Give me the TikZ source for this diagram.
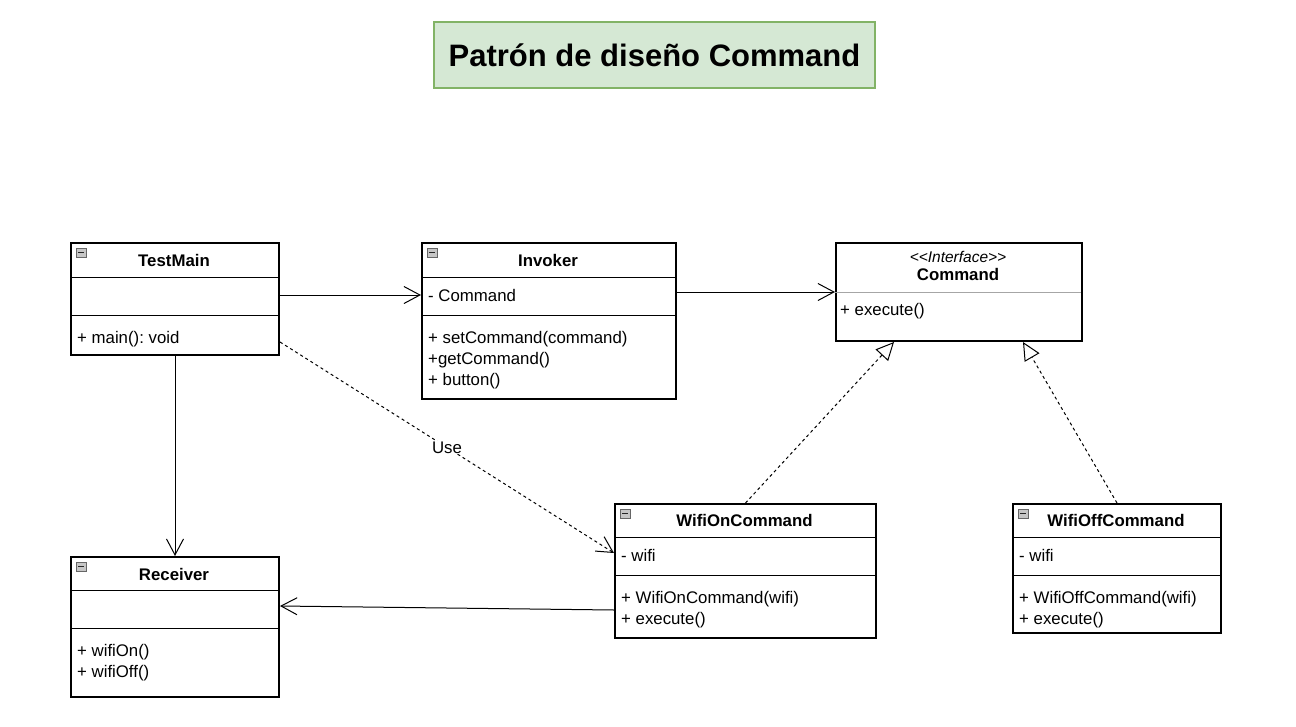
\documentclass[tikz,border=0pt]{standalone}
\usepackage{fontspec}
\setmainfont{Liberation Sans}
\usetikzlibrary{arrows.meta,calc}
\definecolor{titleFill}{HTML}{D5E8D4}
\definecolor{titleDraw}{HTML}{82B366}
\frenchspacing
\begin{document}
\begin{tikzpicture}[x=1pt,y=-1pt,
    classBox/.style={draw, line width=2pt, anchor=north west, inner sep=0pt},
    className/.style={inner sep=0pt, font=\fontsize{16.8}{20}\selectfont\bfseries},
    member/.style={anchor=west, inner sep=0pt, font=\fontsize{16.8}{20}\selectfont},
    sepLine/.style={line width=1pt},
    toggleIcon/.style={draw=gray!80!black, fill=gray!45, line width=0.7pt},
    assoc/.style={line width=1pt, -{Straight Barb[length=16pt, width=17pt, line width=1pt]}},
    realize/.style={line width=1pt, dash pattern=on 3pt off 3pt,
        -{Triangle[open, length=18pt, width=17pt, line width=1pt, fill=white]}}]
    \useasboundingbox (0,0) rectangle (1296,726);

    % Title
    \node[draw=titleDraw, fill=titleFill, line width=2pt, minimum width=441pt, minimum height=66pt,
        font=\fontsize{31}{36}\selectfont\bfseries] (title) at (654.5,55) {Patrón de diseño Command};

    % Classes
    \node[classBox, minimum width=208pt, minimum height=112pt] (testmain) at (70,242) {};
    \node[classBox, minimum width=254pt, minimum height=156pt] (invoker) at (421,242) {};
    \node[classBox, minimum width=246pt, minimum height=98pt] (command) at (835,242) {};
    \node[classBox, minimum width=261pt, minimum height=134pt] (wifion) at (614,503) {};
    \node[classBox, minimum width=208pt, minimum height=129pt] (wifioff) at (1012,503) {};
    \node[classBox, minimum width=208pt, minimum height=140pt] (receiver) at (70,556) {};

    % Compartments
    \draw[sepLine] (70,277) -- (278,277);
    \draw[sepLine] (70,315) -- (278,315);
    \draw[sepLine] (421,277) -- (675,277);
    \draw[sepLine] (421,315) -- (675,315);
    \draw[sepLine, gray!70] (835,292) -- (1081,292);
    \draw[sepLine] (614,537) -- (875,537);
    \draw[sepLine] (614,575) -- (875,575);
    \draw[sepLine] (1012,537) -- (1220,537);
    \draw[sepLine] (1012,575) -- (1220,575);
    \draw[sepLine] (70,590) -- (278,590);
    \draw[sepLine] (70,628) -- (278,628);

    % Toggle icons
    \foreach \ix/\iy in {76/248, 427/248, 620/509, 1018/509, 76/562} {
        \draw[toggleIcon] (\ix,\iy) rectangle ++(10,9);
        \draw[line width=1.2pt, gray!30!black] (\ix+2,\iy+4.5) -- ++(6,0);
    }

    % Class names
    \node[className] (testmainName) at (174,260.5) {TestMain};
    \node[className] (invokerName) at (548,260.5) {Invoker};
    \node[inner sep=0pt, font=\fontsize{15.5}{18}\selectfont\itshape] (commandStereo) at (958,256.5) {<{}<Interface>{}>};
    \node[className] (commandName) at (958,274.5) {Command};
    \node[className] (wifionName) at (744.5,520.5) {WifiOnCommand};
    \node[className] (wifioffName) at (1116,520.5) {WifiOffCommand};
    \node[className] (receiverName) at (174,574) {Receiver};

    % Members
    \node[member] (tmMain) at (77,339) {+ main(): void};
    \node[member] (invCommand) at (428,295) {- Command};
    \node[member] (invSet) at (428,339) {+ setCommand(command)};
    \node[member] (invGet) at (428,360) {+getCommand()};
    \node[member] (invButton) at (428,381) {+ button()};
    \node[member] (cmdExecute) at (840,311) {+ execute()};
    \node[member] (onWifi) at (621,555) {- wifi};
    \node[member] (onCtor) at (621,599) {+ WifiOnCommand(wifi)};
    \node[member] (onExecute) at (621,620.5) {+ execute()};
    \node[member] (offWifi) at (1019,555) {- wifi};
    \node[member] (offCtor) at (1019,599) {+ WifiOffCommand(wifi)};
    \node[member] (offExecute) at (1019,620.5) {+ execute()};
    \node[member] (recOn) at (77,652) {+ wifiOn()};
    \node[member] (recOff) at (77,673) {+ wifiOff()};

    % Relations
    \draw[assoc] ([yshift=4pt]testmain.east) -- ([yshift=4pt]testmain.east -| invoker.west);
    \draw[assoc] (invoker.east |- command.west) -- (command.west);
    \draw[assoc] (testmain.south) -- (receiver.north);
    \draw[assoc] ([yshift=-39pt]wifion.west) -- ([yshift=21pt]receiver.east);
    \draw[assoc, dash pattern=on 3pt off 3pt] ([yshift=14pt]testmain.south east) -- ([yshift=-50pt]wifion.north west)
        node[pos=0.5, fill=white, inner sep=1pt, font=\fontsize{16.8}{20}\selectfont] (useLabel) {Use};
    \draw[realize] (wifion.north) -- ([xshift=-65pt]command.south);
    \draw[realize] (wifioff.north) -- ([xshift=64pt]command.south);
\end{tikzpicture}
\end{document}
